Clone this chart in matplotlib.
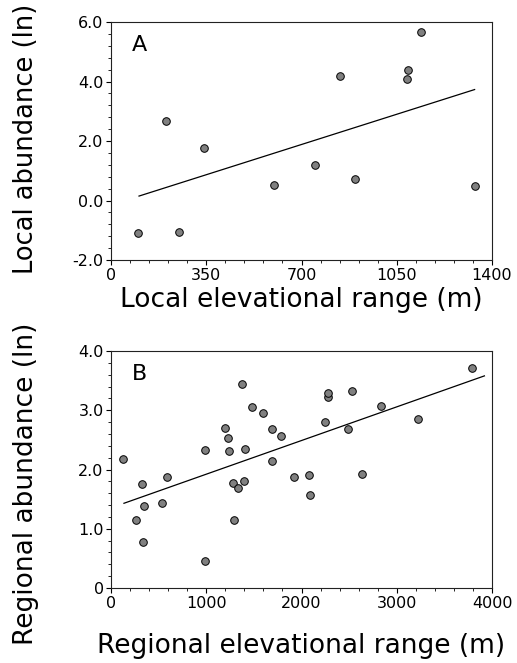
#!/usr/bin/env python3
"""Abundance vs elevational range, local (A) and regional (B) panels."""
import matplotlib
matplotlib.use("Agg")
import matplotlib.pyplot as plt
from matplotlib.ticker import MultipleLocator

plt.rcParams["font.family"] = ["DejaVu Sans"]

# ── Data ─────────────────────────────────────────────────────────────────────
local_range = [99, 201, 250, 340, 600, 748, 840, 897, 1088, 1090, 1138, 1339]
local_abund = [-1.09, 2.67, -1.07, 1.76, 0.52, 1.19, 4.17, 0.71, 4.09, 4.40, 5.65, 0.49]
local_fit_x = [103, 1336]
local_fit_y = [0.15, 3.73]

regional_range = [129, 262, 329, 346, 339, 535, 584, 986, 986, 1196, 1227, 1241,
                  1283, 1294, 1336, 1374, 1392, 1406, 1479, 1594, 1689, 1692,
                  1780, 1920, 2080, 2087, 2245, 2280, 2280, 2483, 2531, 2636,
                  2839, 3227, 3790]
regional_abund = [2.18, 1.15, 1.75, 1.39, 0.78, 1.43, 1.87, 2.33, 0.46, 2.70, 2.54, 2.31,
                  1.77, 1.15, 1.68, 3.44, 1.81, 2.35, 3.05, 2.95, 2.14, 2.69,
                  2.56, 1.88, 1.90, 1.57, 2.80, 3.23, 3.29, 2.68, 3.32, 1.92,
                  3.07, 2.85, 3.72]
regional_fit_x = [136, 3920]
regional_fit_y = [1.43, 3.58]

a_xticks = [0, 350, 700, 1050, 1400]
a_yticks = [-2.0, 0.0, 2.0, 4.0, 6.0]
a_yticklabels = ["-2.0", "0.0", "2.0", "4.0", "6.0"]
b_xticks = [0, 1000, 2000, 3000, 4000]
b_yticks = [0, 1.0, 2.0, 3.0, 4.0]
b_yticklabels = ["0", "1.0", "2.0", "3.0", "4.0"]

# ── Style ────────────────────────────────────────────────────────────────────
POINT_COLOR = "#808080"
TICK_SIZE = 11.5
LABEL_SIZE = 19


def style_axes(ax, xticks, yticks, yticklabels, xminor, yminor):
    ax.set_xticks(xticks)
    ax.set_xticklabels([str(t) for t in xticks])
    ax.set_yticks(yticks)
    ax.set_yticklabels(yticklabels)
    ax.xaxis.set_minor_locator(MultipleLocator(xminor))
    ax.yaxis.set_minor_locator(MultipleLocator(yminor))
    ax.tick_params(which="major", length=3.5, width=0.8, labelsize=TICK_SIZE)
    ax.tick_params(which="minor", length=2.5, width=0.6)
    ax.tick_params(axis="x", which="major", pad=2.5)
    ax.tick_params(axis="y", which="major", pad=1.8)
    for s in ax.spines.values():
        s.set_linewidth(0.8)
        s.set_color("#222222")


def panel(ax, x, y, fx, fy, letter):
    ax.plot(fx, fy, color="black", lw=0.9, zorder=2)
    ax.scatter(x, y, s=30, color=POINT_COLOR, edgecolors="black", linewidths=0.7, zorder=3)
    ax.text(0.055, 0.945, letter, transform=ax.transAxes, fontsize=16,
            ha="left", va="top")


fig = plt.figure(figsize=(5.17, 6.63), dpi=100)

# ── Panel A ──────────────────────────────────────────────────────────────────
ax_a = fig.add_axes([0.2147, 0.6078, 0.737, 0.359])
panel(ax_a, local_range, local_abund, local_fit_x, local_fit_y, "A")
ax_a.set_xlim(0, 1400)
ax_a.set_ylim(-2.0, 6.0)
style_axes(ax_a, a_xticks, a_yticks, a_yticklabels, 70, 0.4)
ax_a.set_xlabel("Local elevational range (m)", fontsize=LABEL_SIZE)
ax_a.set_ylabel("Local abundance (ln)", fontsize=18.5)
ax_a.xaxis.set_label_coords(0.5, -0.115)
ax_a.yaxis.set_label_coords(-0.189, 0.51)

# ── Panel B ──────────────────────────────────────────────────────────────────
ax_b = fig.add_axes([0.2147, 0.1131, 0.737, 0.3575])
panel(ax_b, regional_range, regional_abund, regional_fit_x, regional_fit_y, "B")
ax_b.set_xlim(0, 4000)
ax_b.set_ylim(0, 4.0)
style_axes(ax_b, b_xticks, b_yticks, b_yticklabels, 200, 0.2)
ax_b.set_xlabel("Regional elevational range (m)", fontsize=LABEL_SIZE)
ax_b.set_ylabel("Regional abundance (ln)", fontsize=LABEL_SIZE)
ax_b.xaxis.set_label_coords(0.5, -0.19)
ax_b.yaxis.set_label_coords(-0.189, 0.439)

fig.savefig("out.png", dpi=100)
